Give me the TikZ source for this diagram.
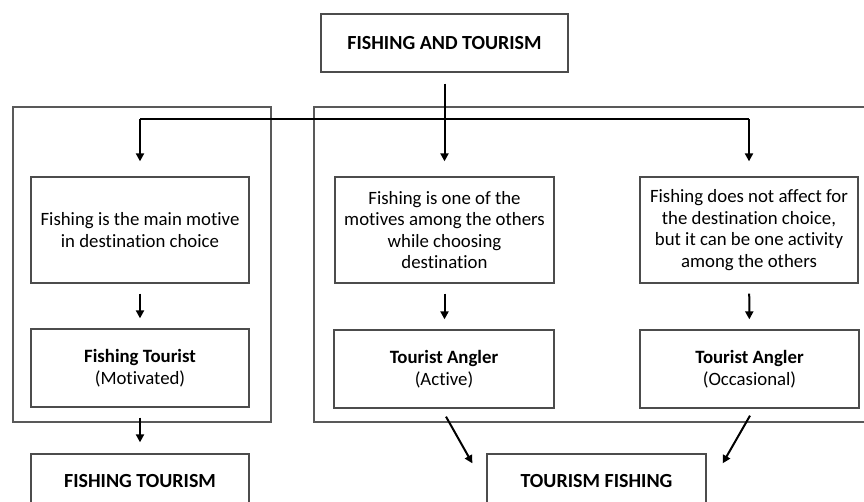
\documentclass[tikz,border=0pt]{standalone}
\usepackage{fontspec}
\setmainfont{Carlito}[Ligatures=NoCommon]
\usetikzlibrary{arrows.meta}
\begin{document}
\begin{tikzpicture}[x=1pt,y=-1pt,
  box/.style={draw=black!70,line width=1.3pt,inner sep=0pt,align=center,
    font=\fontsize{18.8}{21.5}\selectfont},
  head/.style={box,font=\fontsize{20}{24}\selectfont\bfseries},
  frame/.style={draw=black!65,line width=1.3pt},
  arr/.style={draw=black,line width=2pt,-{Triangle[length=8pt,width=8pt]}},
  link/.style={draw=black,line width=2pt}]
\useasboundingbox (0,0) rectangle (864,502);
\clip (0,0) rectangle (864,502);
\fill[white] (0,0) rectangle (864,502);

% the two group frames
\draw[frame] (13,107) rectangle (271,422);
\draw[frame] (314,107) rectangle (900,422);

% top heading
\node[head,minimum width=247pt,minimum height=58pt] (top) at (444.5,43)
  {FISHING AND TOURISM};

% motive boxes
\node[box,minimum width=218pt,minimum height=106pt] (a1) at (140,230)
  {Fishing is the main motive\\in destination choice};
\node[box,minimum width=219pt,minimum height=106pt] (a2) at (444.5,230)
  {Fishing is one of the\\motives among the others\\while choosing\\destination};
\node[box,minimum width=218pt,minimum height=106pt] (a3) at (749,230)
  {Fishing does not affect for\\the destination choice,\\but it can be one activity\\among the others};

% tourist type boxes
\node[box,minimum width=218pt,minimum height=78pt] (b1) at (140,368)
  {\textbf{Fishing Tourist}\\(Motivated)};
\node[box,minimum width=220pt,minimum height=78pt] (b2) at (444,369)
  {\textbf{Tourist Angler}\\(Active)};
\node[box,minimum width=219pt,minimum height=78pt] (b3) at (749.5,369)
  {\textbf{Tourist Angler}\\(Occasional)};

% resulting categories
\node[head,minimum width=218pt,minimum height=54pt] (c1) at (140,481)
  {FISHING TOURISM};
\node[head,minimum width=219pt,minimum height=54pt] (c2) at (596.5,481)
  {TOURISM FISHING};

% distribution lines from the heading
\coordinate (jl) at (a1.north |- 0,119);
\coordinate (jr) at (a3.north |- 0,119);
\draw[link] (jl) -- (jr);
\draw[arr,shorten <=11pt,shorten >=15pt] (top.south) -- (a2.north);
\draw[arr,shorten >=15pt] (jl) -- (a1.north);
\draw[arr,shorten >=15pt] (jr) -- (a3.north);

% motive to tourist type
\draw[arr,shorten <=10pt,shorten >=10pt] (a1) -- (b1);
\draw[arr,shorten <=10pt,shorten >=10pt] (a2.south) -- (b2.north -| a2.south);
\draw[arr,shorten <=10pt,shorten >=10pt] (a3) -- (b3);

% tourist type to category
\draw[arr,shorten <=10pt,shorten >=11pt] (b1.south) -- (c1.north);
\draw[arr] ([xshift=2pt,yshift=-8pt]b2.south) -- ([xshift=-14pt,yshift=-10pt]c2.north west);
\draw[arr] ([xshift=0.5pt,yshift=-7pt]b3.south) -- ([xshift=16pt,yshift=-10pt]c2.north east);
\end{tikzpicture}
\end{document}
